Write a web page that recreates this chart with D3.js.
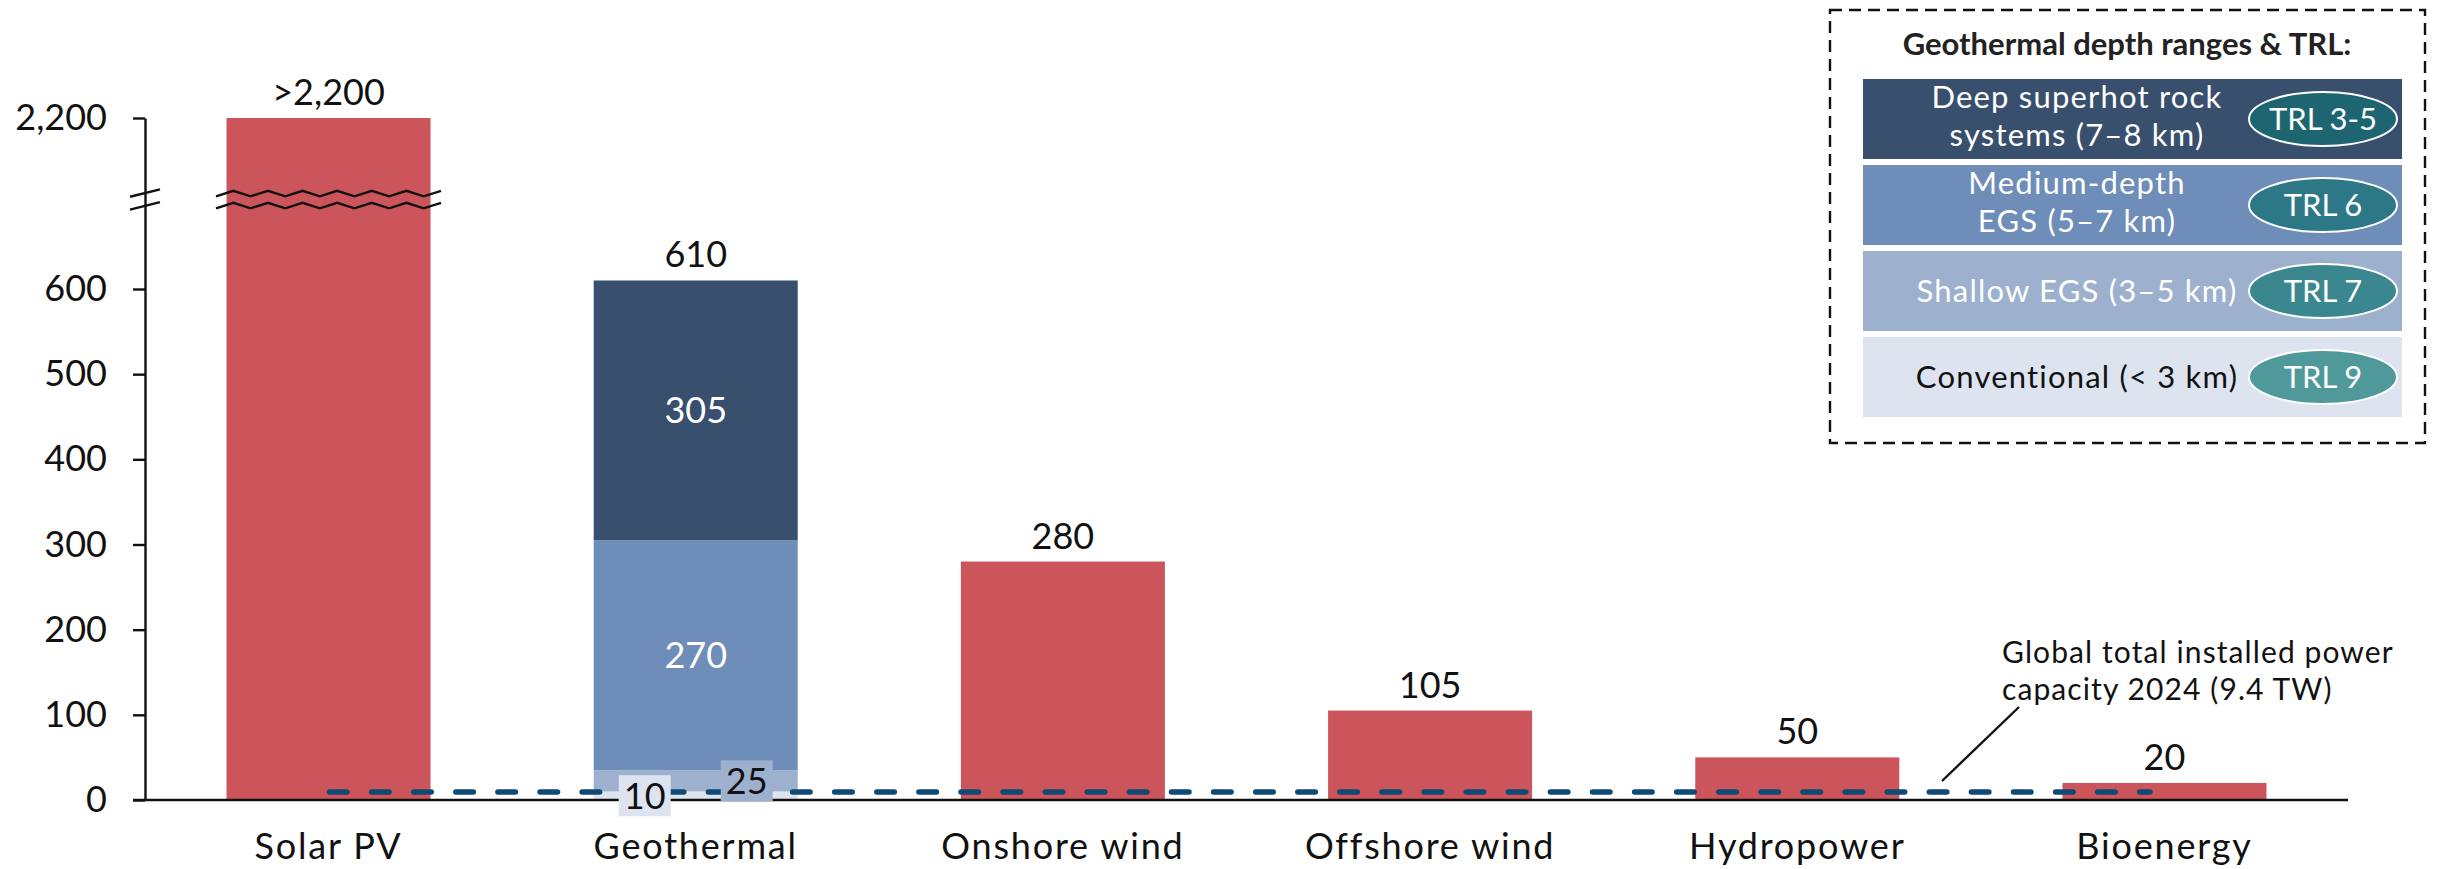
<!DOCTYPE html>
<html>
<head>
<meta charset="utf-8">
<script src="https://cdn.jsdelivr.net/npm/d3@7"></script>
<style>
  html, body { margin: 0; padding: 0; background: #ffffff; }
  svg { display: block; font-family: Lato, "Noto Sans", sans-serif; }
</style>
</head>
<body>
<svg id="chart" width="2450" height="869"></svg>
<script>
// Technical potential by technology (TW)
const categories = ["Solar PV", "Geothermal", "Onshore wind", "Offshore wind", "Hydropower", "Bioenergy"];
const potential = [2200, 610, 280, 105, 50, 20];
const valueLabels = [">2,200", "610", "280", "105", "50", "20"];

// Geothermal split by depth range (bottom to top of the stack)
const geoLayers = ["Conventional", "Shallow EGS", "Medium-depth EGS", "Deep superhot rock"];
const geoValues = [10, 25, 270, 305];

// Reference line: global installed power capacity in 2024
const capacity2024 = 9.4;

const yTicks = [0, 100, 200, 300, 400, 500, 600, 2200];

// Legend content (top to bottom)
const legendLines = [
  ["Deep superhot rock", "systems (7–8 km)"],
  ["Medium-depth", "EGS (5–7 km)"],
  ["Shallow EGS (3–5 km)"],
  ["Conventional (< 3 km)"]
];
const trlLabels = ["TRL 3-5", "TRL 6", "TRL 7", "TRL 9"];

// ---- styling ----
const barRed = "#cc545b";
const geoColors = { "Conventional": "#dde4ef", "Shallow EGS": "#9db1cf", "Medium-depth EGS": "#6e8db8", "Deep superhot rock": "#394f6e" };
const legendFill = ["#394f6e", "#6e8db8", "#9db1cf", "#dde4ef"];
const legendText = ["#ffffff", "#ffffff", "#ffffff", "#111111"];
const trlFill = ["#1d6570", "#2c7887", "#3a8790", "#50999b"];
const lineBlue = "#0e4a73";

const svg = d3.select("#chart");

// ---- scales ----
const axisX = 145, axisRight = 2348, baseY = 800;
const x = d3.scaleBand()
  .domain(categories)
  .range([axisX, axisRight])
  .paddingInner(0.4444)
  .paddingOuter(0.222);

// broken axis: linear up to the break, compressed above it
const breakValue = 705;
const pxPerUnit = 511 / 600;
const y = d3.scaleLinear()
  .domain([0, breakValue, 2200])
  .range([baseY, baseY - breakValue * pxPerUnit, 118]);
const breakY = y(breakValue);

// ---- single-value bars ----
const simple = categories.map((c, i) => ({ cat: c, value: potential[i], label: valueLabels[i] }))
  .filter(d => d.cat !== "Geothermal");

svg.append("g").selectAll("rect")
  .data(simple)
  .join("rect")
  .attr("x", d => x(d.cat))
  .attr("y", d => y(d.value))
  .attr("width", x.bandwidth())
  .attr("height", d => y(0) - y(d.value))
  .attr("fill", barRed);

// ---- geothermal stack ----
const geoRow = { cat: "Geothermal" };
geoLayers.forEach((k, i) => geoRow[k] = geoValues[i]);
const stacked = d3.stack().keys(geoLayers)([geoRow]);

svg.append("g").selectAll("rect")
  .data(stacked)
  .join("rect")
  .attr("x", x("Geothermal"))
  .attr("y", s => y(s[0][1]))
  .attr("width", x.bandwidth())
  .attr("height", s => y(s[0][0]) - y(s[0][1]))
  .attr("fill", s => geoColors[s.key]);

// ---- value labels above bars ----
const totals = categories.map((c, i) => ({
  cat: c,
  top: c === "Geothermal" ? d3.sum(geoValues) : potential[i],
  label: valueLabels[i]
}));
svg.append("g").selectAll("text")
  .data(totals)
  .join("text")
  .attr("x", d => x(d.cat) + x.bandwidth() / 2)
  .attr("y", d => y(d.top) - 13)
  .attr("text-anchor", "middle")
  .attr("font-size", 36)
  .attr("fill", "#111")
  .text(d => d.label);

// inner labels for the two large geothermal layers
svg.append("g").selectAll("text")
  .data(stacked.filter(s => s[0][1] - s[0][0] > 100))
  .join("text")
  .attr("x", x("Geothermal") + x.bandwidth() / 2)
  .attr("y", s => (y(s[0][0]) + y(s[0][1])) / 2)
  .attr("dy", "0.36em")
  .attr("text-anchor", "middle")
  .attr("font-size", 36)
  .attr("fill", "#ffffff")
  .text(s => s[0][1] - s[0][0]);

// ---- axis break zigzags across the solar bar ----
const zig = (x0, x1, mid, amp, n) => d3.range(n + 1).map(i => [x0 + i * (x1 - x0) / n, mid + (i % 2 === 0 ? amp : -amp)]);
const solarL = x("Solar PV") - 10.5, solarR = x("Solar PV") + x.bandwidth() + 10.5;
const zLine = d3.line();
[breakY - 6, breakY + 6].forEach(m => {
  svg.append("path")
    .attr("d", zLine(zig(solarL, solarR, m, 2.7, 13)))
    .attr("fill", "none")
    .attr("stroke", "#111")
    .attr("stroke-width", 2.4);
});

// ---- axes ----
const yAxis = d3.axisLeft(y)
  .tickValues(yTicks)
  .tickFormat(d3.format(","))
  .tickSize(12)
  .tickSizeOuter(0)
  .tickPadding(26);
const gy = svg.append("g").attr("transform", `translate(${axisX},0)`).call(yAxis);
gy.select(".domain").attr("stroke", "#111").attr("stroke-width", 2.4);
gy.selectAll(".tick line").attr("stroke", "#111").attr("stroke-width", 2.4);
gy.selectAll(".tick text").attr("font-size", 36).attr("font-family", "Lato, sans-serif").attr("fill", "#111");

// break marks on the y axis
[breakY - 6.5, breakY + 6.3].forEach(m => {
  svg.append("line")
    .attr("x1", axisX - 15).attr("y1", m + 3.7)
    .attr("x2", axisX + 15).attr("y2", m - 3.7)
    .attr("stroke", "#111").attr("stroke-width", 2.4);
});

// baseline
svg.append("line")
  .attr("x1", axisX - 12).attr("x2", axisRight)
  .attr("y1", y(0)).attr("y2", y(0))
  .attr("stroke", "#111").attr("stroke-width", 2.4);

const xAxis = d3.axisBottom(x).tickSize(0).tickPadding(33);
const gx = svg.append("g").attr("transform", `translate(0,${y(0)})`).call(xAxis);
gx.select(".domain").remove();
gx.selectAll(".tick text")
  .attr("font-size", 36)
  .attr("font-family", "Lato, sans-serif")
  .attr("letter-spacing", "1.8px")
  .attr("fill", "#111");

// ---- 2024 installed capacity reference line ----
svg.append("line")
  .attr("x1", 329.5).attr("x2", 2150)
  .attr("y1", y(capacity2024)).attr("y2", y(capacity2024))
  .attr("stroke", lineBlue)
  .attr("stroke-width", 5.5)
  .attr("stroke-linecap", "round")
  .attr("stroke-dasharray", "17.5 24.6");

// small geothermal layers: boxed labels
const smallLayers = stacked.filter(s => s[0][1] - s[0][0] < 100);
const boxX = [0.25, 0.75];
smallLayers.forEach((s, i) => {
  const cx = x("Geothermal") + x.bandwidth() * boxX[i];
  const cy = (y(s[0][0]) + y(s[0][1])) / 2;
  const g = svg.append("g");
  g.append("rect")
    .attr("x", cx - 26).attr("y", cy - 20.5)
    .attr("width", 52).attr("height", 41)
    .attr("fill", geoColors[s.key]);
  g.append("text")
    .attr("x", cx).attr("y", cy)
    .attr("dy", "0.36em")
    .attr("text-anchor", "middle")
    .attr("font-size", 36)
    .attr("fill", "#111")
    .text(s[0][1] - s[0][0]);
});

// annotation for the reference line
svg.append("line")
  .attr("x1", 2019).attr("y1", 707)
  .attr("x2", 1942).attr("y2", 781)
  .attr("stroke", "#111").attr("stroke-width", 2.4);
const ann = svg.append("text")
  .attr("font-size", 30)
  .attr("letter-spacing", "1.1px")
  .attr("fill", "#111");
ann.append("tspan").attr("x", 2002).attr("y", 663).text("Global total installed power");
ann.append("tspan").attr("x", 2002).attr("y", 700).text("capacity 2024 (9.4 TW)");

// ---- legend ----
const legend = svg.append("g");
legend.append("rect")
  .attr("x", 1830).attr("y", 10)
  .attr("width", 595).attr("height", 433)
  .attr("fill", "#fff")
  .attr("stroke", "#111")
  .attr("stroke-width", 2.4)
  .attr("stroke-dasharray", "12 7");
legend.append("text")
  .attr("x", 2127).attr("y", 55)
  .attr("text-anchor", "middle")
  .attr("font-size", 31)
  .attr("font-weight", 700)
  .attr("fill", "#222")
  .text("Geothermal depth ranges & TRL:");

const ly = d3.scaleBand().domain(d3.range(4)).range([79, 417]).paddingInner(0.07);
const rows = legend.selectAll("g.row")
  .data(d3.range(4))
  .join("g")
  .attr("class", "row");
rows.append("rect")
  .attr("x", 1863).attr("width", 539)
  .attr("y", i => ly(i)).attr("height", ly.bandwidth())
  .attr("fill", i => legendFill[i]);
rows.each(function(i) {
  const cy = ly(i) + ly.bandwidth() / 2;
  const lines = legendLines[i];
  const t = d3.select(this).append("text")
    .attr("text-anchor", "middle")
    .attr("font-size", 31)
    .attr("letter-spacing", "1.2px")
    .attr("fill", legendText[i]);
  const base = lines.length === 2 ? [cy - 11, cy + 27.5] : [cy + 11];
  lines.forEach((l, j) => t.append("tspan").attr("x", 2077).attr("y", base[j]).text(l));
  d3.select(this).append("ellipse")
    .attr("cx", 2323).attr("cy", cy)
    .attr("rx", 74).attr("ry", 27)
    .attr("fill", trlFill[i])
    .attr("stroke", "#ffffff").attr("stroke-width", 2);
  d3.select(this).append("text")
    .attr("x", 2323).attr("y", cy + 11)
    .attr("text-anchor", "middle")
    .attr("font-size", 31)
    .attr("fill", "#ffffff")
    .text(trlLabels[i]);
});
</script>
</body>
</html>
